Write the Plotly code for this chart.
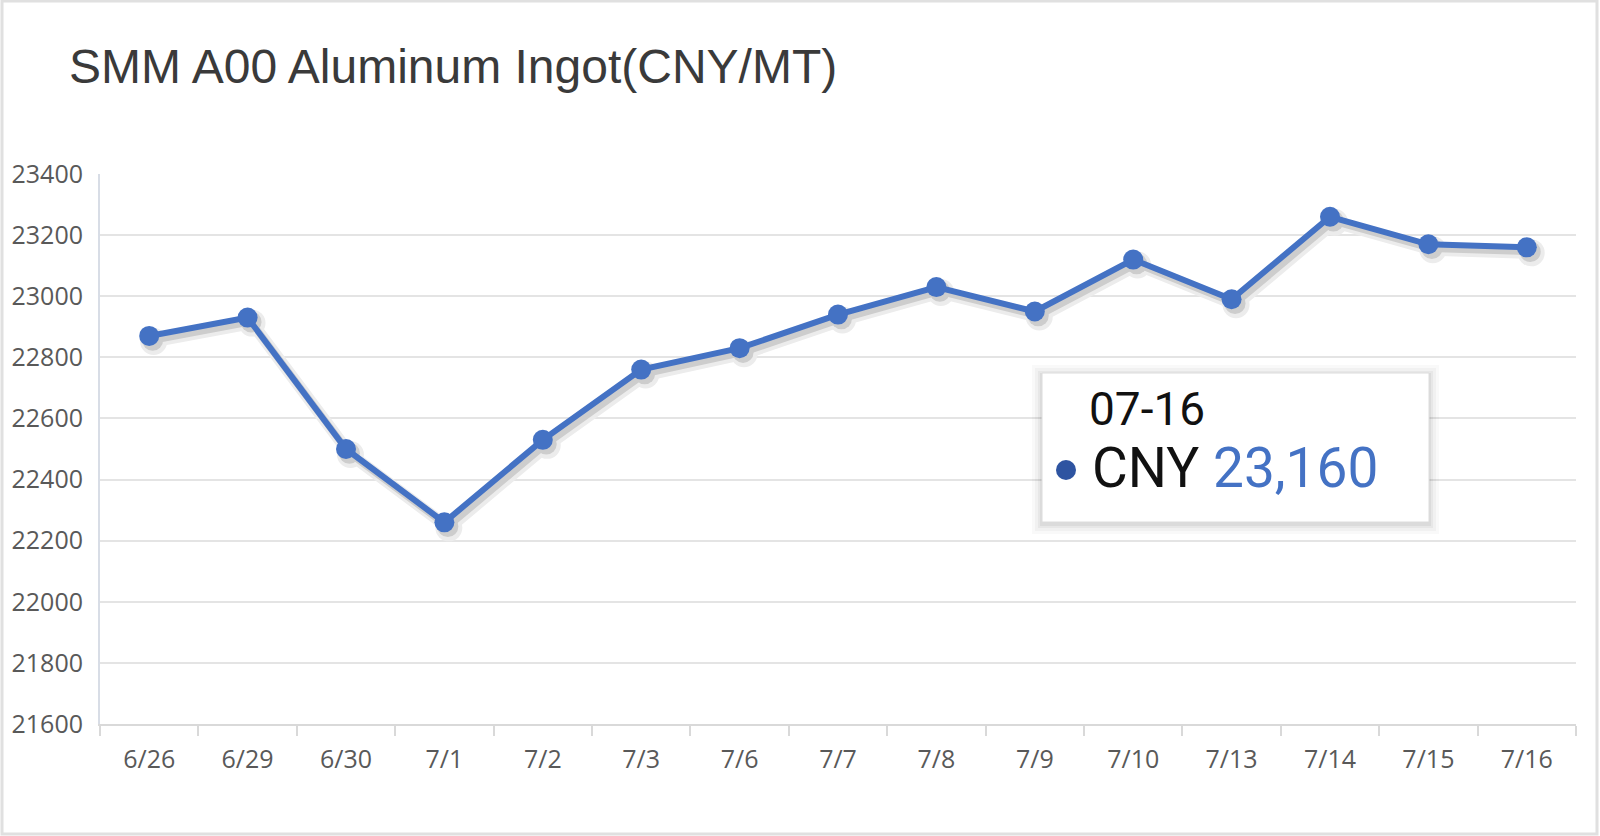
import plotly.graph_objects as go
import numpy as np

# ---- data ----
dates = ["6/26", "6/29", "6/30", "7/1", "7/2", "7/3", "7/6", "7/7",
         "7/8", "7/9", "7/10", "7/13", "7/14", "7/15", "7/16"]
prices = [22870, 22930, 22500, 22260, 22530, 22760, 22830, 22940,
          23030, 22950, 23120, 22990, 23260, 23170, 23160]
y_ticks = [21600, 21800, 22000, 22200, 22400, 22600, 22800, 23000, 23200, 23400]
title_text = "SMM A00 Aluminum Ingot(CNY/MT)"
tooltip_date = "07-16"
tooltip_series = "CNY"

# ---- layout geometry (pixels) ----
W, H = 1600, 836
L, R, T, B = 100, 24, 174, 112
PW, PH = W - L - R, H - T - B


def px(x):
    return (x - L) / PW


def py(y):
    return (H - B - y) / PH


idx = np.arange(len(dates))
LINE = "#4472C4"

fig = go.Figure()

# soft shadow under the line
for col, lw, ms, dx, dy in [("#ececec", 12, 27, 0.045, 18), ("#cdcdcd", 7, 21, 0.035, 14)]:
    fig.add_trace(go.Scatter(
        x=idx + dx, y=np.array(prices) - dy, mode="lines+markers",
        line=dict(color=col, width=lw), marker=dict(color=col, size=ms),
        hoverinfo="skip", showlegend=False))

fig.add_trace(go.Scatter(
    x=idx, y=prices, mode="lines+markers",
    line=dict(color=LINE, width=6),
    marker=dict(color=LINE, size=20),
    showlegend=False))

fig.update_xaxes(
    range=[-0.5, len(dates) - 0.5],
    tickmode="array", tickvals=idx, ticktext=dates,
    ticks="", showgrid=False, zeroline=False,
    showline=True, linecolor="#d9d9d9", linewidth=2,
    tickfont=dict(family="Open Sans", size=25, color="#595959"),
    ticklabelstandoff=12,
    minor=dict(tickmode="linear", tick0=-0.5, dtick=1, ticks="outside",
               ticklen=10, tickcolor="#d9d9d9", tickwidth=2, showgrid=False),
)
fig.update_yaxes(
    range=[y_ticks[0], y_ticks[-1]],
    tickmode="array", tickvals=y_ticks, ticktext=[str(v) for v in y_ticks],
    ticks="", showgrid=True, gridcolor="#e4e4e4", gridwidth=1.5,
    zeroline=False, showline=True, linecolor="#d8dde6", linewidth=2,
    tickfont=dict(family="Open Sans", size=25, color="#595959"),
    ticklabelstandoff=10,
)

shapes = []
# outer frame
shapes.append(dict(type="rect", xref="paper", yref="paper",
                   x0=px(2), x1=px(1597), y0=py(834), y1=py(1),
                   line=dict(color="#e0e0e0", width=3), fillcolor="rgba(0,0,0,0)",
                   layer="above"))
# tooltip shadow
bx0, bx1, by0, by1 = 1042, 1429, 373, 522
for k, a in [(10, 0.025), (7, 0.03), (4, 0.04), (2, 0.05)]:
    shapes.append(dict(type="rect", xref="paper", yref="paper",
                       x0=px(bx0 - k), x1=px(bx1 + k), y0=py(by1 + k + 2), y1=py(by0 - k + 2),
                       line=dict(width=0), fillcolor=f"rgba(0,0,0,{a})", layer="above"))
shapes.append(dict(type="rect", xref="paper", yref="paper",
                   x0=px(bx0), x1=px(bx1), y0=py(by1), y1=py(by0),
                   line=dict(color="#dcdcdc", width=1), fillcolor="white", layer="above"))
# tooltip dot
shapes.append(dict(type="circle", xref="paper", yref="paper",
                   x0=px(1056), x1=px(1076), y0=py(480), y1=py(460),
                   line=dict(width=0), fillcolor="#2E54A1", layer="above"))

annotations = [
    dict(text=title_text, xref="paper", yref="paper", x=px(67), y=py(66),
         xanchor="left", yanchor="middle", showarrow=False,
         font=dict(family="Liberation Sans", size=48, color="#3a3a3a")),
    dict(text=tooltip_date, xref="paper", yref="paper", x=px(1087), y=py(409),
         xanchor="left", yanchor="middle", showarrow=False,
         font=dict(family="Roboto", size=46, color="#111111")),
    dict(text=f"{tooltip_series} <span style='color:{LINE}'>{prices[-1]:,}</span>",
         xref="paper", yref="paper", x=px(1090), y=py(468),
         xanchor="left", yanchor="middle", showarrow=False,
         font=dict(family="Roboto", size=55, color="#111111")),
]

fig.update_layout(
    width=W, height=H, autosize=False,
    margin=dict(l=L, r=R, t=T, b=B, pad=0),
    paper_bgcolor="white", plot_bgcolor="white",
    hovermode=False, showlegend=False,
    shapes=shapes, annotations=annotations,
)

fig.write_html("out.html")
